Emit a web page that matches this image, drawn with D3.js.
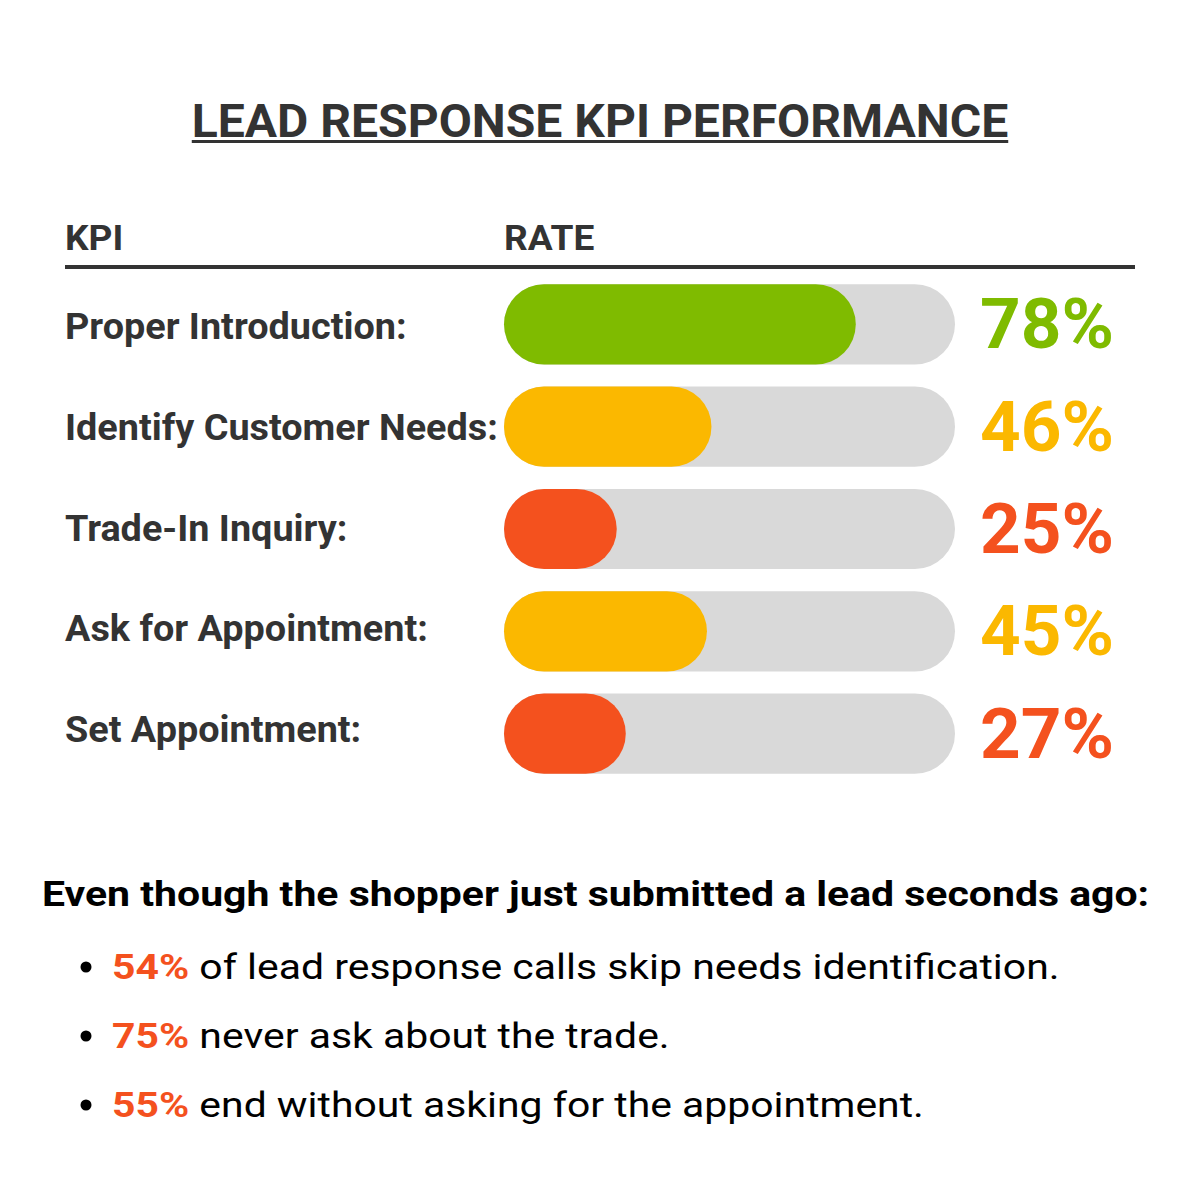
<!DOCTYPE html>
<html>
<head>
<meta charset="utf-8">
<script src="https://cdn.jsdelivr.net/npm/d3@7"></script>
<style>
  body { margin: 0; background: #fff; }
  svg { font-family: Roboto, 'Noto Sans', sans-serif; }
</style>
</head>
<body>
<div id="chart"></div>
<script>
// Data
const kpis = ['Proper Introduction:', 'Identify Customer Needs:', 'Trade-In Inquiry:', 'Ask for Appointment:', 'Set Appointment:']
const rates = [78, 46, 25, 45, 27]
const levels = ['good', 'mid', 'low', 'mid', 'low']
const notePcts = ['54%', '75%', '55%']
const noteTexts = [' of lead response calls skip needs identification.', ' never ask about the trade.', ' end without asking for the appointment.']

const title = 'LEAD RESPONSE KPI PERFORMANCE'
const intro = 'Even though the shopper just submitted a lead seconds ago:'

const colour = { good: '#7fbb00', mid: '#fbb800', low: '#f4511e' }
const textCol = '#333333'

const width = 1200
const height = 1200
const margin = {left: 65, right: 65}

const svg = d3.select('#chart')
  .append('svg')
  .attr('width', width)
  .attr('height', height)

// The source type is a little wider than Roboto, so stretch it horizontally
function wideText(parent, x, y, sx) {
  return parent.append('g')
    .attr('transform', `translate(${x},${y}) scale(${sx},1)`)
    .append('text')
}

// Title, underlined
const tTitle = wideText(svg, width / 2, 137, 1.023)
  .attr('text-anchor', 'middle')
  .style('font-size', '47px')
  .style('font-weight', 700)
  .style('fill', textCol)
  .text(title)
const tw = tTitle.node().getBBox().width * 1.023
svg.append('rect')
  .attr('x', width / 2 - tw / 2)
  .attr('y', 140)
  .attr('width', tw)
  .attr('height', 3)
  .style('fill', textCol)

// Column headers
const barX = 504
const barW = 451
wideText(svg, margin.left, 250, 1.06)
  .style('font-size', '35px').style('font-weight', 700).style('fill', textCol)
  .text('KPI')
wideText(svg, barX, 250, 1.06)
  .style('font-size', '35px').style('font-weight', 700).style('fill', textCol)
  .text('RATE')
svg.append('rect')
  .attr('x', margin.left).attr('y', 265)
  .attr('width', 1135 - margin.left).attr('height', 4)
  .style('fill', textCol)

// Scales
const xScale = d3.scaleLinear().domain([0, 100]).range([0, barW])
const yScale = d3.scaleBand().domain(kpis).range([274, 784]).paddingInner(0.216).paddingOuter(0.1)
const yLabel = d3.scalePoint().domain(kpis).range([339, 742])
const barH = yScale.bandwidth()

const rowData = kpis.map((k, i) => ({k: k, v: rates[i], c: colour[levels[i]]}))

// Row labels
rowData.forEach(d => {
  wideText(svg, margin.left, yLabel(d.k), 1.05)
    .style('font-size', '36px')
    .style('font-weight', 700)
    .style('fill', textCol)
    .text(d.k)
})

const rows = svg.selectAll('.row')
  .data(rowData)
  .join('g')
  .attr('class', 'row')
  .attr('transform', d => `translate(0,${yScale(d.k)})`)

rows.append('rect')
  .attr('x', barX)
  .attr('width', xScale(100))
  .attr('height', barH)
  .attr('rx', barH / 2)
  .style('fill', '#d9d9d9')

rows.append('rect')
  .attr('x', barX)
  .attr('width', d => xScale(d.v))
  .attr('height', barH)
  .attr('rx', barH / 2)
  .style('fill', d => d.c)

rows.append('text')
  .attr('x', 980)
  .attr('y', barH / 2 + 24)
  .style('font-size', '71px')
  .style('font-weight', 700)
  .style('fill', d => d.c)
  .text(d => d.v + '%')

// Notes
wideText(svg, 42, 906, 1.138)
  .style('font-size', '36px').style('font-weight', 700).style('fill', '#000')
  .text(intro)

notePcts.forEach((p, i) => {
  const y = 979 + i * 69
  svg.append('circle')
    .attr('cx', 86).attr('cy', y - 12).attr('r', 5.5)
    .style('fill', '#000')
  const nt = wideText(svg, 112, y, 1.137)
    .style('font-size', '36px')
  nt.append('tspan')
    .style('font-weight', 700).style('fill', colour.low)
    .text(p)
  nt.append('tspan')
    .style('fill', '#000')
    .text(noteTexts[i])
})
</script>
</body>
</html>
